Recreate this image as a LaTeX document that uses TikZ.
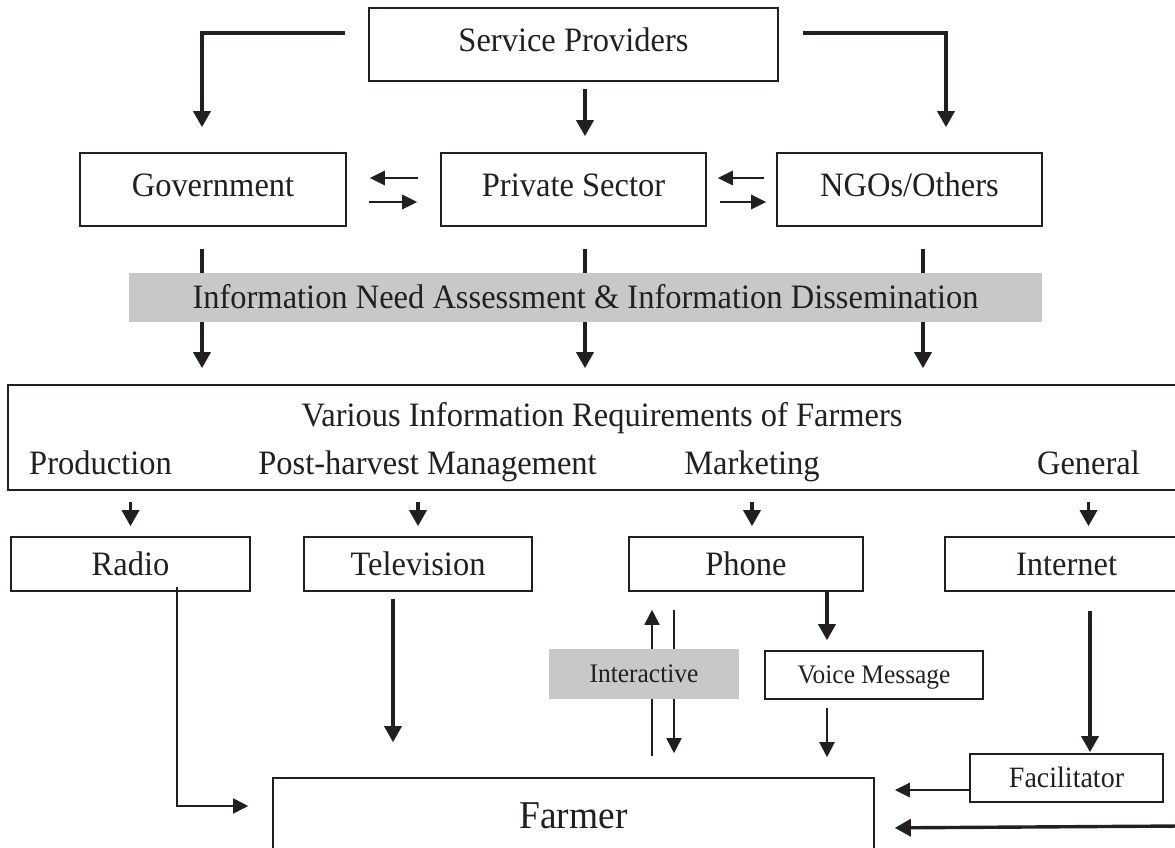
\documentclass[tikz,border=0pt]{standalone}
\usepackage{fontspec}
\setmainfont{Liberation Serif}[FakeStretch=0.95]
\usetikzlibrary{arrows.meta}
\definecolor{ink}{RGB}{35,31,32}
\definecolor{band}{RGB}{200,200,200}
\newcommand\fsmain{\fontsize{34.2}{41}\selectfont}
\newcommand\fssmall{\fontsize{26.8}{32}\selectfont}
\newcommand\fsfac{\fontsize{29.5}{35}\selectfont}
\newcommand\fsbig{\fontsize{39.4}{47}\selectfont}
\begin{document}
\begin{tikzpicture}[x=1pt,y=-1pt,
  every node/.style={inner sep=0pt, text=ink},
  txt/.style={font=\fsmain, text height=22.6pt, text depth=0pt},
  box/.style={txt, draw=ink, line width=1.6pt},
  topbox/.style={box, text depth=9pt},
  smallbox/.style={draw=ink, line width=1.6pt, font=\fssmall, text height=17.7pt, text depth=0pt},
  thk/.style={draw=ink, line width=3.4pt, -{Triangle[width=17pt,length=16pt]}},
  med/.style={draw=ink, line width=2.8pt, -{Triangle[width=14pt,length=15pt]}},
  thn/.style={draw=ink, line width=1.8pt, -{Triangle[width=15pt,length=15pt]}},
]
\useasboundingbox (0,0) rectangle (1175,848);

% top level
\node[topbox, minimum width=409pt, minimum height=73pt] (sp) at (573.5,44.5) {Service Providers};
\node[topbox, minimum width=266pt, minimum height=73pt] (gov) at (213,189.5) {Government};
\node[topbox, minimum width=265pt, minimum height=73pt] (priv) at (573.5,189.5) {Private Sector};
\node[topbox, minimum width=265pt, minimum height=73pt] (ngo) at (909.5,189.5) {NGOs/Others};

\draw[thk, shorten <=23pt, shorten >=25pt] ([yshift=11.5pt]sp.west) -| ([xshift=-11pt]gov.north);
\draw[thk, shorten <=7pt, shorten >=16pt] ([xshift=11.5pt]sp.south) -- ([xshift=11.5pt]priv.north);
\draw[thk, shorten <=24pt, shorten >=25pt] ([yshift=11.5pt]sp.east) -| ([xshift=36.5pt]ngo.north);

\draw[med, shorten <=22pt, shorten >=23pt] ([yshift=11.5pt]priv.west) -- ([yshift=11.5pt]gov.east);
\draw[med, shorten <=22pt, shorten >=23pt] ([yshift=-12.5pt]gov.east) -- ([yshift=-12.5pt]priv.west);
\draw[med, shorten <=12pt, shorten >=11pt] ([yshift=11.5pt]ngo.west) -- ([yshift=11.5pt]priv.east);
\draw[med, shorten <=13pt, shorten >=10pt] ([yshift=-12.5pt]priv.east) -- ([yshift=-12.5pt]ngo.west);

% requirements box
\node[draw=ink, line width=1.6pt, minimum width=1172pt, minimum height=105pt] (req) at (594,437.5) {};
\node[txt] (vreq) at (602,415.5) {Various Information Requirements of Farmers};
\node[txt] (prod) at (100.5,463) {Production};
\node[txt] (post) at (427.5,463) {Post-harvest Management};
\node[txt] (mkt) at (752,463) {Marketing};
\node[txt] (gen) at (1088.5,463) {General};

% columns through the band
\draw[thk, shorten <=22pt, shorten >=16pt] ([xshift=-11pt]gov.south) -- ([xshift=-11pt]gov.south |- req.north);
\draw[thk, shorten <=22pt, shorten >=16pt] ([xshift=11.5pt]priv.south) -- ([xshift=11.5pt]priv.south |- req.north);
\draw[thk, shorten <=22pt, shorten >=16pt] ([xshift=13.5pt]ngo.south) -- ([xshift=13.5pt]ngo.south |- req.north);
\node[txt, fill=band, minimum width=913pt, minimum height=49pt] (band) at (585.5,297.5) {Information Need Assessment \& Information Dissemination};

% media
\node[box, minimum width=239pt, minimum height=54pt] (radio) at (130.5,564) {Radio};
\node[box, minimum width=228pt, minimum height=54pt] (tv) at (418,564) {Television};
\node[box, minimum width=234pt, minimum height=54pt] (phone) at (746,564) {Phone};
\node[box, minimum width=243pt, minimum height=54pt] (inet) at (1066.5,564) {Internet};

\draw[thk, shorten <=11pt, shorten >=10pt] (req.south -| radio) -- (radio.north);
\draw[thk, shorten <=11pt, shorten >=10pt] (req.south -| tv) -- (tv.north);
\draw[thk, shorten <=11pt, shorten >=10pt] (req.south -| mkt) -- (phone.north -| mkt);
\draw[thk, shorten <=11pt, shorten >=10pt] (req.south -| gen) -- (inet.north -| gen);

% lower part
\node[draw=ink, line width=1.6pt, font=\fsbig, text height=26pt, text depth=0pt, minimum width=601pt, minimum height=74pt] (farmer) at (573.5,815) {Farmer};
\node[smallbox, minimum width=218pt, minimum height=48pt] (voice) at (874,675) {Voice Message};
\node[draw=ink, line width=1.6pt, font=\fsfac, text height=19.5pt, text depth=0pt, minimum width=193pt, minimum height=48pt] (fac) at (1066.5,778) {Facilitator};

\draw[thn, shorten <=-5pt, shorten >=24pt] ([xshift=46.5pt]radio.south) |- ([yshift=9pt]farmer.west);
\draw[thk, shorten <=7pt, shorten >=35pt] ([xshift=-25pt]tv.south) -- ([xshift=-25pt]tv.south |- farmer.north);

\draw[thn, shorten <=21pt, shorten >=18pt] ([xshift=-94pt]phone.south |- farmer.north) -- ([xshift=-94pt]phone.south);
\draw[thn, shorten <=18pt, shorten >=24pt] ([xshift=-72pt]phone.south) -- ([xshift=-72pt]phone.south |- farmer.north);
\node[smallbox, draw=none, fill=band, minimum width=190pt, minimum height=50pt] (inter) at (644,674) {Interactive};

\draw[thk, shorten >=10pt] ([xshift=81pt]phone.south) -- ([xshift=-47pt]voice.north);
\draw[thn, line width=2.2pt, shorten <=8pt, shorten >=20pt] ([xshift=-47pt]voice.south) -- ([xshift=-47pt]voice.south |- farmer.north);

\draw[thk, shorten <=19pt, shorten >=1pt] ([xshift=23.5pt]inet.south) -- ([xshift=23.5pt]fac.north);
\draw[med, shorten >=20pt] ([yshift=-12pt]fac.west) -- ([yshift=-12pt]fac.west -| farmer.east);
\coordinate (offR) at (1180,826);
\draw[thk, shorten >=20pt] (offR) -- ([yshift=-13pt]farmer.east);
\end{tikzpicture}
\end{document}
